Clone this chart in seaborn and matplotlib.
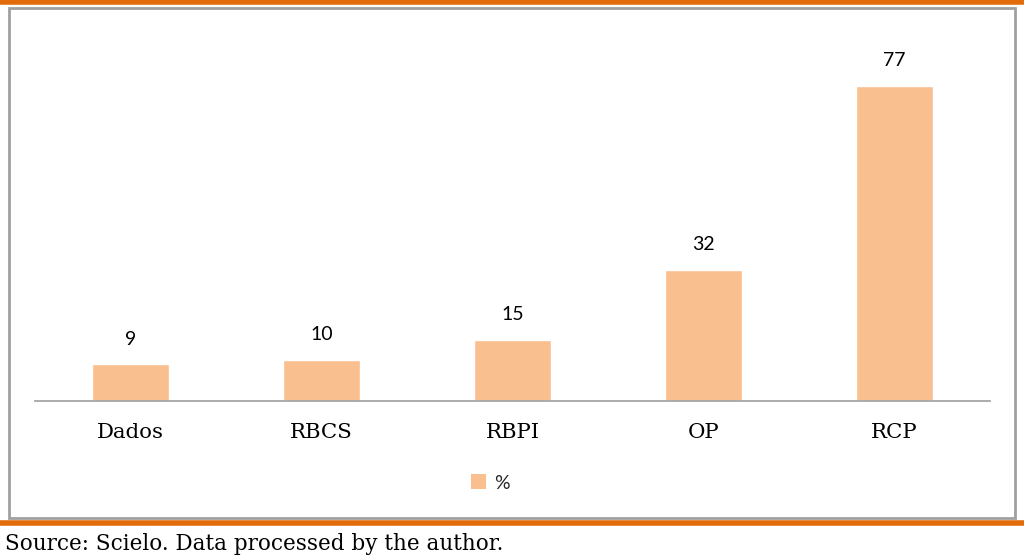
import matplotlib
matplotlib.use("Agg")
import matplotlib.pyplot as plt
import seaborn as sns
import pandas as pd
from matplotlib.patches import Rectangle, Patch
from matplotlib.lines import Line2D

categories = ["Dados", "RBCS", "RBPI", "OP", "RCP"]
values = [9, 10, 15, 32, 77]
series_name = "%"
source_text = "Source: Scielo. Data processed by the author."

bar_color = "#F9BF8F"
orange = "#E36C0A"

sns.set_theme(style="white")
plt.rcParams['font.family'] = ['Lato', 'DejaVu Sans']

W, H = 1024, 559
fig = plt.figure(figsize=(W / 100, H / 100), dpi=100)

ax = fig.add_axes([35 / W, 1 - 401 / H, 955 / W, 90 * 4.09 / H])
df = pd.DataFrame({"cat": categories, "val": values})
sns.barplot(data=df, x="cat", y="val", color=bar_color, width=0.4, ax=ax,
            saturation=1)
ax.set_xlim(-0.5, 4.5)
ax.set_ylim(0, 90)
for s in ["top", "right", "left"]:
    ax.spines[s].set_visible(False)
ax.spines["bottom"].set_color("#A6A6A6")
ax.spines["bottom"].set_linewidth(1.3)
ax.set_yticks([])
ax.set_xlabel("")
ax.set_ylabel("")
ax.tick_params(axis="x", length=0, pad=16, colors="#000000")
for lab in ax.get_xticklabels():
    lab.set_family(["DejaVu Serif"])
    lab.set_fontsize(15.3)
for i, v in enumerate(values):
    ax.annotate(str(v), (i, v), xytext=(0, 12), textcoords="offset points",
                ha="center", va="bottom", fontsize=14, color="#000000")

# outer gray box
fig.patches.append(Rectangle((9 / W, 1 - 518 / H), 1006 / W, 510 / H,
                             transform=fig.transFigure, fill=False,
                             edgecolor="#A0A0A0", linewidth=2))
# orange rules
fig.lines.append(Line2D([0, 1], [1 - 2 / H, 1 - 2 / H], transform=fig.transFigure,
                        color=orange, linewidth=4))
fig.lines.append(Line2D([0, 1], [1 - 523 / H, 1 - 523 / H], transform=fig.transFigure,
                        color=orange, linewidth=4))

fig.legend(handles=[Patch(facecolor=bar_color, edgecolor="none", label=series_name)],
           loc="center", bbox_to_anchor=(490 / W, 1 - 483 / H), frameon=False,
           fontsize=14, handlelength=0.8, handleheight=0.8, handletextpad=0.4)

fig.text(5 / W, 1 - 544 / H, source_text, family=["DejaVu Serif"], fontsize=15.5,
         va="center", ha="left", color="#000000")

fig.savefig("out.png", dpi=100)
